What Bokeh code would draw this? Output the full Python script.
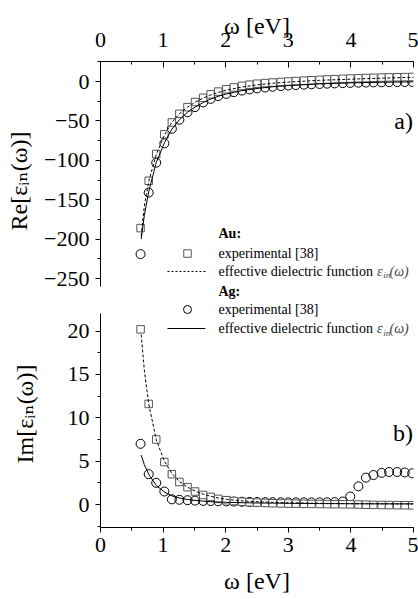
from bokeh.plotting import figure
from bokeh.layouts import column
from bokeh.models import Range1d, Label, SingleIntervalTicker
from bokeh.embed import file_html
from bokeh.resources import INLINE

# ---------------- data ----------------
omega = [0.64, 0.77, 0.89, 1.02, 1.14, 1.26, 1.39, 1.51, 1.64, 1.76, 1.88, 2.01,
         2.13, 2.26, 2.38, 2.50, 2.63, 2.75, 2.88, 3.00, 3.12, 3.25, 3.37, 3.50,
         3.62, 3.74, 3.87, 3.99, 4.12, 4.24, 4.36, 4.49, 4.61, 4.74, 4.86, 4.98]

au_re = [-186, -126, -92, -67, -52, -41, -32.5, -26, -20.7, -16.3, -12.8, -9.8,
         -7.5, -5.5, -4.0, -2.8, -2.0, -1.3, -0.6, 0.0, 0.6, 1.1, 1.6, 2.1,
         2.6, 3.0, 3.4, 3.8, 4.1, 4.4, 4.7, 5.0, 5.2, 5.4, 5.6, 5.8]

ag_re = [-219, -141, -103, -78.5, -60, -48.5, -39, -32.5, -26.5, -22, -18.5, -15.7,
         -13.5, -11.5, -10.0, -8.7, -7.6, -6.6, -5.8, -5.1, -4.5, -4.0, -3.5, -3.1,
         -2.7, -2.4, -2.1, -1.8, -1.5, -1.3, -1.1, -0.9, -0.8, -0.7, -0.6, -0.5]

au_im = [20.2, 11.6, 7.5, 4.9, 3.5, 2.6, 2.0, 1.5, 1.1, 0.88, 0.65, 0.5,
         0.4, 0.32, 0.26, 0.22, 0.18, 0.15, 0.13, 0.11, 0.10, 0.08, 0.07, 0.06,
         0.05, 0.04, 0.03, 0.02, 0.0, -0.02, -0.04, -0.05, -0.06, -0.07, -0.08, -0.09]

ag_im = [7.0, 3.5, 2.5, 1.5, 0.6, 0.55, 0.5, 0.45, 0.42, 0.40, 0.38, 0.36,
         0.34, 0.32, 0.30, 0.29, 0.28, 0.27, 0.26, 0.25, 0.25, 0.25, 0.25, 0.25,
         0.26, 0.28, 0.35, 0.92, 2.1, 3.1, 3.4, 3.65, 3.75, 3.75, 3.7, 3.6]

# effective dielectric function curves
fit_omega = [0.65, 0.70, 0.77, 0.89, 1.02, 1.14, 1.26, 1.39, 1.51, 1.64, 1.76,
             1.88, 2.01, 2.26, 2.50, 2.75, 3.00, 3.50, 4.00, 4.50, 5.00]
au_re_fit = [-196, -158, -127, -93, -68, -52, -41, -32.5, -26.5, -21, -17,
             -13.8, -11, -7, -4.3, -2.2, -0.7, 1.5, 3.0, 4.3, 5.3]
ag_re_fit = [-200, -170, -140, -103, -78, -60.5, -48.5, -39, -32.5, -26.7, -22.2,
             -18.7, -15.8, -11.6, -8.8, -6.7, -5.1, -3.0, -1.7, -0.9, -0.4]
au_im_fit = [19.6, 15.5, 11.6, 7.5, 5.0, 3.6, 2.65, 2.0, 1.55, 1.2, 0.95,
             0.75, 0.6, 0.42, 0.32, 0.25, 0.2, 0.14, 0.1, 0.08, 0.07]
ag_im_fit = [5.7, 4.6, 3.5, 2.2, 1.45, 1.0, 0.75, 0.58, 0.47, 0.39, 0.33,
             0.29, 0.26, 0.21, 0.18, 0.16, 0.14, 0.11, 0.09, 0.08, 0.07]

x_label = "ω [eV]"
re_label = "Re[εᵢₙ(ω)]"
im_label = "Im[εᵢₙ(ω)]"

FONT = "'Liberation Serif', 'DejaVu Serif', serif"
W = 418
LEG = "14px"


def style_common(ax):
    ax.major_label_text_font = FONT
    ax.major_label_text_font_size = "22px"
    ax.major_label_text_color = "black"
    ax.axis_label_text_font = FONT
    ax.axis_label_text_font_size = "24px"
    ax.axis_label_text_font_style = "normal"
    ax.axis_label_text_color = "black"
    ax.axis_line_color = "black"
    ax.major_tick_line_color = "black"
    ax.minor_tick_line_color = "black"


def style_left(ax, interval, standoff):
    style_common(ax)
    ax.ticker = SingleIntervalTicker(interval=interval, num_minor_ticks=2)
    ax.major_tick_in = 0
    ax.major_tick_out = 5
    ax.minor_tick_in = 0
    ax.minor_tick_out = 3
    ax.major_label_standoff = 6
    ax.axis_label_standoff = standoff


def style_x(ax):
    style_common(ax)
    ax.ticker = SingleIntervalTicker(interval=1, num_minor_ticks=2)


def legend_text(p, y, text, style="normal"):
    p.add_layout(Label(x=1.885, y=y, text=text, text_font=FONT, text_font_size=LEG,
                       text_font_style=style, text_baseline="middle", text_color="black"))


def eps_in(p, y, dy):
    p.add_layout(Label(x=4.417, y=y, text="ε", text_font=FONT, text_font_size=LEG,
                       text_font_style="italic", text_baseline="middle"))
    p.add_layout(Label(x=4.516, y=y - dy, text="in", text_font=FONT, text_font_size="9px",
                       text_font_style="italic", text_baseline="middle"))
    p.add_layout(Label(x=4.617, y=y, text="(ω)", text_font=FONT, text_font_size=LEG,
                       text_font_style="italic", text_baseline="middle"))


# ---------------- top panel: real part ----------------
p1 = figure(width=W, height=300, x_range=Range1d(0, 5), y_range=Range1d(-277.9, 25.4),
            x_axis_location="above", output_backend="svg", toolbar_location=None,
            min_border_left=100, min_border_right=5, min_border_top=61, min_border_bottom=0)
p1.grid.visible = False
p1.outline_line_color = None
p1.background_fill_color = "white"
p1.border_fill_color = "white"

style_x(p1.xaxis[0])
p1.xaxis[0].axis_label = x_label
p1.xaxis[0].major_tick_in = 6
p1.xaxis[0].major_tick_out = 0
p1.xaxis[0].minor_tick_in = 3
p1.xaxis[0].minor_tick_out = 0
p1.xaxis[0].major_label_standoff = 15
p1.xaxis[0].axis_label_standoff = -9

style_left(p1.yaxis[0], 50, 9)
p1.yaxis[0].axis_label = re_label
p1.yaxis[0].bounds = (-260, 25.4)

p1.scatter(omega, ag_re, marker="circle", size=9, line_color="black", line_width=1,
           fill_alpha=0)
p1.scatter(omega, au_re, marker="square", size=7.5, line_color="#555555", line_width=1,
           fill_color="white")
p1.line(fit_omega, au_re_fit, line_color="black", line_width=1, line_dash="3 2")
p1.line(fit_omega, ag_re_fit, line_color="black", line_width=1)

p1.add_layout(Label(x=4.99, y=-49.5, text="a)", text_font=FONT, text_font_size="24px",
                    text_align="right", text_baseline="middle", text_color="black"))

# legend (Au part) in the top panel
legend_text(p1, -192.9, "Au:", "bold")
p1.scatter([1.39], [-218.3], marker="square", size=7.5, line_color="#555555",
           fill_color="white")
legend_text(p1, -218.3, "experimental [38]")
p1.line([1.07, 1.677], [-241.1, -241.1], line_color="black", line_width=1, line_dash="2 2")
legend_text(p1, -241.1, "effective dielectric function")
eps_in(p1, -241.1, 5.0)
legend_text(p1, -266.5, "Ag:", "bold")

# ---------------- bottom panel: imaginary part ----------------
p2 = figure(width=W, height=299, x_range=p1.x_range, y_range=Range1d(-2.65, 23.53),
            output_backend="svg", toolbar_location=None,
            min_border_left=100, min_border_right=5, min_border_top=0, min_border_bottom=72)
p2.grid.visible = False
p2.outline_line_color = None
p2.background_fill_color = "white"
p2.border_fill_color = "white"

style_x(p2.xaxis[0])
p2.xaxis[0].axis_label = x_label
p2.xaxis[0].major_tick_in = 0
p2.xaxis[0].major_tick_out = 5
p2.xaxis[0].minor_tick_in = 0
p2.xaxis[0].minor_tick_out = 3
p2.xaxis[0].major_label_standoff = 5
p2.xaxis[0].axis_label_standoff = 13

style_left(p2.yaxis[0], 5, 27)
p2.yaxis[0].axis_label = im_label
p2.yaxis[0].bounds = (-2.65, 22.0)

p2.scatter(omega, ag_im, marker="circle", size=9, line_color="black", line_width=1,
           fill_alpha=0)
p2.scatter(omega, au_im, marker="square", size=7.5, line_color="#555555", line_width=1,
           fill_color="white")
p2.line(fit_omega, au_im_fit, line_color="black", line_width=1, line_dash="3 2")
p2.line(fit_omega, ag_im_fit, line_color="black", line_width=1)

p2.add_layout(Label(x=4.99, y=8.3, text="b)", text_font=FONT, text_font_size="24px",
                    text_align="right", text_baseline="middle", text_color="black"))

# legend (Ag part)
p2.scatter([1.39], [22.49], marker="circle", size=8, line_color="black", fill_alpha=0)
legend_text(p2, 22.49, "experimental [38]")
p2.line([1.07, 1.677], [20.3, 20.3], line_color="black", line_width=1)
legend_text(p2, 20.3, "effective dielectric function")
eps_in(p2, 20.3, 0.55)

layout = column(p1, p2, spacing=0)
open("out.html", "w").write(file_html(layout, INLINE))
